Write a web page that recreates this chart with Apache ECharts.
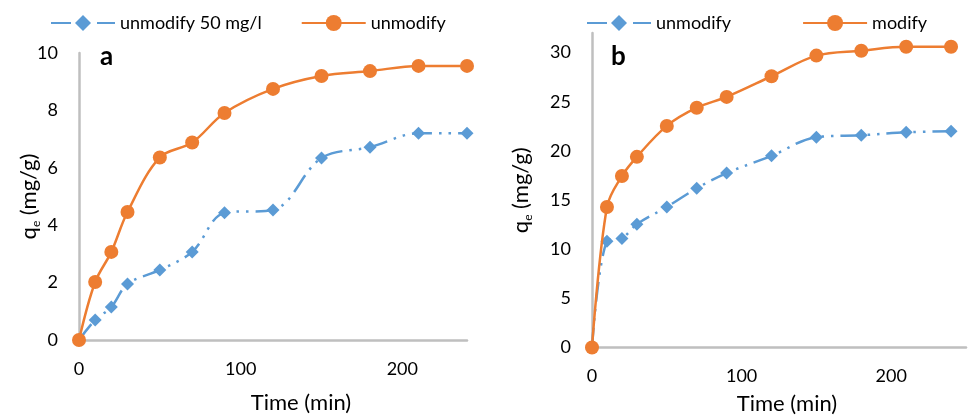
<!DOCTYPE html>
<html>
<head>
<meta charset="utf-8">
<script src="https://cdn.jsdelivr.net/npm/echarts@6/dist/echarts.min.js"></script>
<style>
  html, body { margin: 0; padding: 0; background: #fff; }
  #wrap { position: relative; width: 968px; height: 416px; }
  #ca, #cb { position: absolute; top: 0; width: 484px; height: 416px; }
  #ca { left: 0; }
  #cb { left: 484px; }
</style>
</head>
<body>
<div id="wrap"><div id="ca"></div><div id="cb"></div></div>
<script>
// Contact time (min) shared by both panels
const timeMin = [0, 10, 20, 30, 50, 70, 90, 120, 150, 180, 210, 240];

// Panel a: adsorbed amount q_e (mg/g)
const aUnmodify50 = [0, 0.7, 1.15, 1.95, 2.44, 3.07, 4.43, 4.53, 6.34, 6.72, 7.2, 7.2];
const aUnmodify   = [0, 2.02, 3.07, 4.46, 6.36, 6.88, 7.91, 8.75, 9.2, 9.37, 9.55, 9.55];

// Panel b: adsorbed amount q_e (mg/g)
const bUnmodify = [0, 10.8, 11.1, 12.55, 14.3, 16.2, 17.75, 19.5, 21.4, 21.6, 21.9, 22.0];
const bModify   = [0, 14.3, 17.45, 19.4, 22.55, 24.4, 25.5, 27.6, 29.7, 30.2, 30.6, 30.6];

// Axis settings
const aXTicks = { min: 0, max: 240, interval: 100 };
const aYTicks = { min: 0, max: 10, interval: 2 };
const bXTicks = { min: 0, max: 250, interval: 100 };
const bYTicks = { min: 0, max: 32, interval: 5 };

const BLUE = '#5B9BD5';
const ORANGE = '#ED7D31';
const AXIS = '#BFBFBF';
const FONT = 'Lato';

function pairs(xs, ys) { return xs.map((x, i) => [x, ys[i]]); }

function blueSeries(name, ys) {
  return {
    name, type: 'line', smooth: 0.35,
    data: pairs(timeMin, ys),
    symbol: 'diamond', symbolSize: 13,
    itemStyle: { color: BLUE },
    lineStyle: { color: BLUE, width: 2.5, type: [20, 7, 2.5, 7, 2.5, 7] },
    z: 2
  };
}
function orangeSeries(name, ys) {
  return {
    name, type: 'line', smooth: 0.35,
    data: pairs(timeMin, ys),
    symbol: 'circle', symbolSize: 14,
    itemStyle: { color: ORANGE },
    lineStyle: { color: ORANGE, width: 2.5 },
    z: 3
  };
}

function panel(el, cfg) {
  const chart = echarts.init(document.getElementById(el), null, { renderer: 'canvas' });
  chart.setOption({
    animation: false,
    textStyle: { fontFamily: FONT },
    legend: {
      left: cfg.legendLeft, top: 9,
      itemWidth: 64, itemHeight: 20, itemGap: cfg.legendGap,
      textStyle: { fontFamily: FONT, fontSize: 18, color: '#000' },
      data: cfg.series.map(s => s.name)
    },
    grid: { ...cfg.grid, containLabel: false, outerBoundsMode: 'none' },
    graphic: [{
      type: 'text', left: cfg.tagLeft, top: 44,
      style: { text: cfg.tag, font: 'bold 26px Lato', fill: '#000' }
    }],
    xAxis: {
      type: 'value', ...cfg.x,
      name: 'Time (min)', nameLocation: 'middle', nameGap: cfg.xNameGap,
      nameMoveOverlap: false,
      nameTextStyle: { fontFamily: FONT, fontSize: 22, color: '#000', padding: cfg.xNamePad },
      axisLine: { lineStyle: { color: AXIS, width: 2.5 } },
      axisTick: { show: false },
      splitLine: { show: false },
      axisLabel: { fontFamily: FONT, fontSize: 18, color: '#000', margin: 20, showMaxLabel: cfg.xShowMax }
    },
    yAxis: {
      type: 'value', ...cfg.y,
      name: '{t|q}{s|e}{t| (mg/g)}', nameLocation: 'middle', nameGap: cfg.yNameGap,
      nameMoveOverlap: false,
      nameTextStyle: {
        rich: {
          t: { fontFamily: FONT, fontSize: 22, color: '#000', lineHeight: 26, verticalAlign: 'middle' },
          s: { fontFamily: FONT, fontSize: 12, color: '#000', lineHeight: 12, verticalAlign: 'bottom' }
        }
      },
      axisLine: { show: true, lineStyle: { color: AXIS, width: 2.5 } },
      axisTick: { show: false },
      splitLine: { show: false },
      axisLabel: { fontFamily: FONT, fontSize: 18, color: '#000', margin: 21, showMaxLabel: cfg.yShowMax }
    },
    series: cfg.series
  });
}

panel('ca', {
  legendLeft: 45, legendGap: 39,
  grid: { left: 79, right: 17, top: 53, bottom: 76 },
  tag: 'a', tagLeft: 100,
  x: aXTicks, y: aYTicks,
  xNameGap: 52, xNamePad: [0, 0, 0, 56], xShowMax: false,
  yNameGap: 37, yShowMax: true,
  series: [blueSeries('unmodify 50 mg/l', aUnmodify50), orangeSeries('unmodify', aUnmodify)]
});

panel('cb', {
  legendLeft: 97, legendGap: 71,
  grid: { left: 108, right: 2, top: 33, bottom: 68.5 },
  tag: 'b', tagLeft: 127,
  x: bXTicks, y: bYTicks,
  xNameGap: 45, xNamePad: [0, 0, 0, 16], xShowMax: false,
  yNameGap: 58, yShowMax: false,
  series: [blueSeries('unmodify', bUnmodify), orangeSeries('modify', bModify)]
});
</script>
</body>
</html>
